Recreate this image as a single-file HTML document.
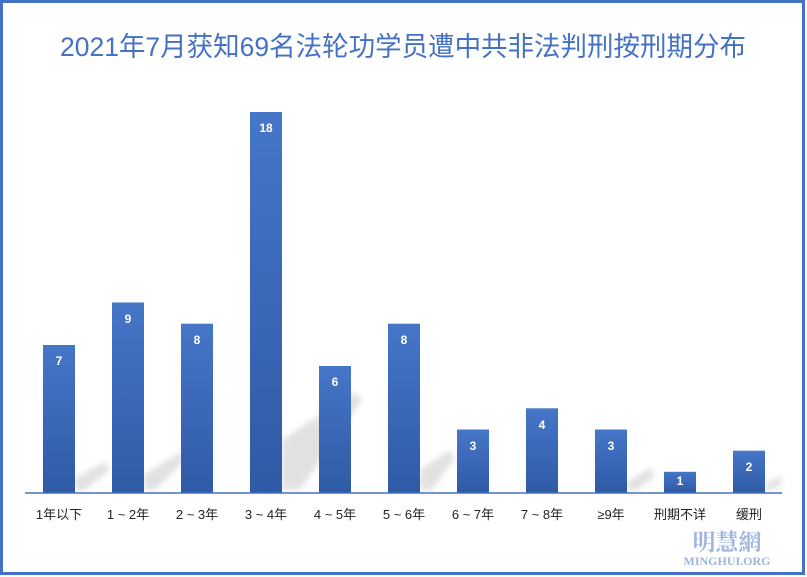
<!DOCTYPE html>
<html><head><meta charset="utf-8"><style>
html,body{margin:0;padding:0;background:#fff;}
svg{display:block;}
</style></head><body>
<svg width="807" height="577" viewBox="0 0 807 577" xmlns="http://www.w3.org/2000/svg" font-family="Liberation Sans, Noto Sans CJK SC, sans-serif">
<defs>
<linearGradient id="g" x1="0" y1="0" x2="0" y2="1">
<stop offset="0" stop-color="#4676c8"/><stop offset="1" stop-color="#2f5aa6"/>
</linearGradient>
<filter id="b"><feGaussianBlur stdDeviation="3"/></filter>
</defs>
<rect x="1.5" y="1.5" width="802" height="572" fill="#fff" stroke="#4472c4" stroke-width="3"/>
<text x="403" y="56" text-anchor="middle" font-size="27" fill="#4472c4" textLength="686" lengthAdjust="spacingAndGlyphs">2021年7月获知69名法轮功学员遭中共非法判刑按刑期分布</text>
<g fill="#aaa" opacity="0.35" filter="url(#b)">
<polygon points="75,490 75,478 105,462 110,470 85,490"/>
<polygon points="144,490 144,475 180,452 185,460 155,490"/>
<polygon points="282,490 282,440 355,392 362,400 300,490"/>
<polygon points="420,490 420,470 450,450 455,458 432,490"/>
<polygon points="627,490 627,482 650,468 655,476 637,490"/>
<polygon points="765,490 765,484 780,476 782,484 772,490"/>
</g>
<g fill="url(#g)">
<rect x="43" y="345" width="32" height="148"/>
<rect x="112" y="302.5" width="32" height="190.5"/>
<rect x="181" y="323.7" width="32" height="169.3"/>
<rect x="250" y="112" width="32" height="381"/>
<rect x="319" y="366" width="32" height="127"/>
<rect x="388" y="323.7" width="32" height="169.3"/>
<rect x="457" y="429.5" width="32" height="63.5"/>
<rect x="526" y="408.3" width="32" height="84.7"/>
<rect x="595" y="429.5" width="32" height="63.5"/>
<rect x="664" y="471.8" width="32" height="21.2"/>
<rect x="733" y="450.7" width="32" height="42.3"/>
</g>
<line x1="25" y1="493" x2="782" y2="493" stroke="#4472c4" stroke-width="1.5"/>
<g fill="#fff" font-size="12" font-weight="bold" text-anchor="middle">
<text x="59" y="365">7</text><text x="128" y="323">9</text><text x="197" y="344">8</text>
<text x="266" y="132">18</text><text x="335" y="386">6</text><text x="404" y="344">8</text>
<text x="473" y="450">3</text><text x="542" y="429">4</text><text x="611" y="450">3</text>
<text x="680" y="485">1</text><text x="749" y="471">2</text>
</g>
<g fill="#222" font-size="13" text-anchor="middle">
<text x="59" y="519">1年以下</text><text x="128" y="519">1 ~ 2年</text><text x="197" y="519">2 ~ 3年</text>
<text x="266" y="519">3 ~ 4年</text><text x="335" y="519">4 ~ 5年</text><text x="404" y="519">5 ~ 6年</text>
<text x="473" y="519">6 ~ 7年</text><text x="542" y="519">7 ~ 8年</text><text x="611" y="519">≥9年</text>
<text x="680" y="519">刑期不详</text><text x="749" y="519">缓刑</text>
</g>
<text x="727" y="550" text-anchor="middle" font-size="23" font-weight="bold" fill="#9fb5de" font-family="Noto Serif CJK SC, serif">明慧網</text>
<text x="727" y="565" text-anchor="middle" font-size="12" font-weight="bold" fill="#9fb5de" font-family="Liberation Serif, serif">MINGHUI.ORG</text>
</svg>
</body></html>
